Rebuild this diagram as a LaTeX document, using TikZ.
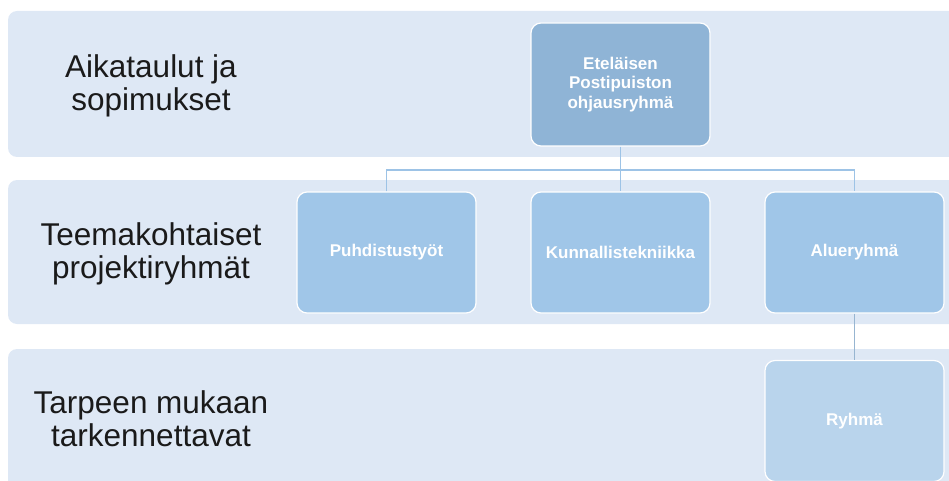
\documentclass[tikz,border=0pt]{standalone}
\usepackage{fontspec}
\setmainfont{Liberation Sans}
\definecolor{bandcol}{HTML}{DEE8F5}
\definecolor{topcol}{HTML}{8FB4D6}
\definecolor{midcol}{HTML}{A0C6E8}
\definecolor{lowcol}{HTML}{B9D4EC}
\definecolor{linecol}{HTML}{9DC3E6}
\definecolor{labcol}{HTML}{1A1A1A}
\begin{document}
\begin{tikzpicture}[x=1pt,y=-1pt,
  band/.style={fill=bandcol,draw=none,rounded corners=9pt},
  orgbox/.style={draw=white,line width=1.2pt,rounded corners=10pt,minimum width=179pt,minimum height=121pt,inner sep=2pt,text=white,font=\fontsize{17}{19.5}\selectfont\bfseries,align=center},
  lvl/.style={text=labcol,font=\fontsize{31.5}{33}\selectfont,align=center,inner sep=0pt},
  conn/.style={draw=linecol,line width=1.8pt},
  conn2/.style={draw=linecol!80!gray,line width=1.3pt}]
\useasboundingbox (0,0) rectangle (949,481);
\begin{scope}
\clip (0,0) rectangle (949,481);
\fill[band] (8,11) rectangle (975,157);
\fill[band] (8,180) rectangle (975,324);
\fill[band] (8,349) rectangle (975,510);
\end{scope}
\node[lvl] (l1) at (151,85.5) {Aikataulut ja\\sopimukset};
\node[lvl] (l2) at (151,254) {Teemakohtaiset\\projektiryhmät};
\node[lvl] (l3) at (151,419) {Tarpeen mukaan\\tarkennettavat};
\coordinate (bus) at (620.5,170);
\node[orgbox,fill=topcol,minimum height=123pt] (top) at (620.5,84.5) {Eteläisen\\Postipuiston\\ohjausryhmä};
\node[orgbox,fill=midcol] (p) at (386.5,252.5) {Puhdistustyöt};
\node[orgbox,fill=midcol] (k) at (620.5,252.5) {Kunnallistekniikka};
\node[orgbox,fill=midcol] (a) at (854.5,252.5) {Alueryhmä};
\node[orgbox,fill=lowcol] (r) at (854.5,421) {Ryhmä};
\begin{scope}[on background layer/.try]
\end{scope}
\draw[conn] (top.south) -- (k.north);
\draw[conn] (p.north) |- (bus) -| (a.north);
\draw[conn2] (a.south) -- (r.north);
\end{tikzpicture}
\end{document}
